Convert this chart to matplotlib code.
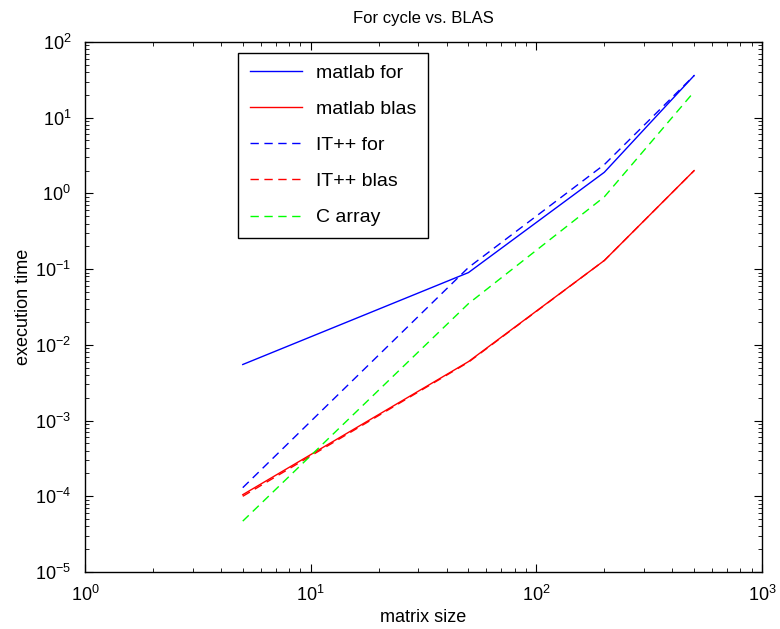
import matplotlib
matplotlib.use("Agg")
import matplotlib.pyplot as plt
import numpy as np

plt.rcParams['font.family'] = ['Liberation Sans', 'DejaVu Sans']

# data
sizes = [5, 50, 200, 500]
matlab_for = [5.5e-3, 0.09, 1.9, 36]
matlab_blas = [1.05e-4, 6.0e-3, 0.13, 2.0]
itpp_for = [1.3e-4, 0.105, 2.4, 36]
itpp_blas = [1.0e-4, 5.9e-3, 0.13, 2.0]
c_array = [4.7e-5, 0.035, 0.9, 22]

fig = plt.figure(figsize=(7.8, 6.29), dpi=100)
ax = fig.add_axes([0.109, 0.0906, 0.868, 0.8427])

dash = (0, (6, 4))
ax.loglog(sizes, matlab_for, color='blue', lw=1, label='matlab for')
ax.loglog(sizes, matlab_blas, color='red', lw=1, label='matlab blas')
ax.loglog(sizes, itpp_for, color='blue', lw=1, ls=dash, label='IT++ for')
ax.loglog(sizes, itpp_blas, color='red', lw=1, ls=dash, label='IT++ blas')
ax.loglog(sizes, c_array, color='#00ff00', lw=1, ls=dash, label='C array')

ax.set_xlim(1, 1000)
ax.set_ylim(1e-5, 1e2)
ax.set_xticks([1, 10, 100, 1000])
ax.set_yticks([10.0 ** k for k in range(-5, 3)])
ax.tick_params(which='both', direction='in', top=True, right=True, labelsize=13)
ax.tick_params(which='major', length=6)
ax.tick_params(which='minor', length=3)
ax.tick_params(axis='x', which='major', pad=9)
ax.tick_params(axis='y', which='major', pad=10)
for s in ax.spines.values():
    s.set_linewidth(1)

ax.set_title("For cycle vs. BLAS", fontsize=12, pad=14)
ax.set_xlabel("matrix size", fontsize=13, labelpad=3)
ax.set_ylabel("execution time", fontsize=13, labelpad=2)

leg = ax.legend(loc='upper left', bbox_to_anchor=(0.212, 0.998), fontsize=14,
                fancybox=False, framealpha=1, edgecolor='black',
                handlelength=2.7, handletextpad=0.7, labelspacing=0.95,
                borderpad=0.6)
leg.get_frame().set_linewidth(1)

fig.savefig("out.png", dpi=100)
